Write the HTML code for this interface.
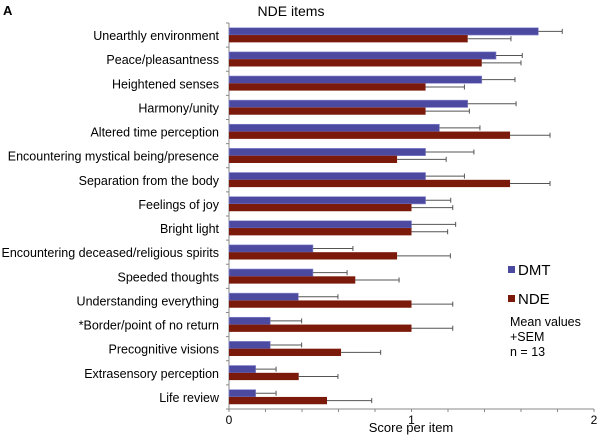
<!DOCTYPE html>
<html><head><meta charset="utf-8"><style>
body{margin:0;background:#fff;}
svg{display:block;font-family:"Liberation Sans",Arial,sans-serif;}
</style></head><body>
<svg width="600" height="436">
<text x="3" y="15" font-size="13" font-weight="bold">A</text>
<text x="291" y="16" font-size="14" text-anchor="middle">NDE items</text>
<g id="plot"></g>
<rect x="508" y="266" width="7" height="7" fill="#4b4aa0"/>
<text x="518" y="275" font-size="15">DMT</text>
<rect x="508" y="295" width="7" height="7" fill="#7b1a0a"/>
<text x="518" y="304" font-size="15">NDE</text>
<text x="510" y="326" font-size="12.5">Mean values</text>
<text x="510" y="341" font-size="12.5">+SEM</text>
<text x="510" y="356" font-size="12.5">n = 13</text>
<text x="411" y="432" font-size="13" text-anchor="middle">Score per item</text>
</svg>
<script>
const categories=["Unearthly environment","Peace/pleasantness","Heightened senses","Harmony/unity","Altered time perception","Encountering mystical being/presence","Separation from the body","Feelings of joy","Bright light","Encountering deceased/religious spirits","Speeded thoughts","Understanding everything","*Border/point of no return","Precognitive visions","Extrasensory perception","Life review"];
const dmtValues=[1.695,1.463,1.385,1.308,1.153,1.077,1.077,1.077,1.0,0.46,0.46,0.38,0.226,0.226,0.146,0.146];
const dmtErrTop=[1.826,1.607,1.567,1.573,1.375,1.342,1.29,1.215,1.242,0.679,0.647,0.597,0.398,0.398,0.258,0.258];
const ndeValues=[1.308,1.385,1.077,1.077,1.54,0.921,1.54,1.0,1.0,0.921,0.692,1.0,1.0,0.614,0.382,0.537];
const ndeErrTop=[1.545,1.6,1.29,1.317,1.759,1.19,1.759,1.226,1.198,1.213,0.932,1.226,1.226,0.831,0.597,0.782];
const xTicks=[0,0.2,0.4,0.6,0.8,1,1.2,1.4,1.6,1.8,2];
const xTickLabels=["0","1","2"];
const X0=229,X1=594,TOP=23,BOT=409;
const xs=v=>X0+(X1-X0)*v/2;
const band=(BOT-TOP)/categories.length;
const NS="http://www.w3.org/2000/svg";
const g=document.getElementById('plot');
function mk(t,a){const e=document.createElementNS(NS,t);for(const k in a)e.setAttribute(k,a[k]);g.appendChild(e);return e;}
let e;
e=mk('line',{x1:X0,y1:TOP,x2:X0,y2:BOT,stroke:'#888','stroke-width':1});


e=mk('line',{x1:X0,y1:BOT,x2:X1,y2:BOT,stroke:'#888','stroke-width':1});


xTicks.forEach(t=>{e=mk('line',{x1:xs(t),y1:BOT,x2:xs(t),y2:BOT+3,stroke:'#888'});

});
xTickLabels.forEach(l=>{e=mk('text',{x:xs(+l),y:BOT+15,'font-size':12,'text-anchor':'middle'});e.textContent=l;

});
for(let i=0;i<=categories.length;i++){e=mk('line',{x1:X0-3,y1:TOP+i*band,x2:X0,y2:TOP+i*band,stroke:'#888'});

}
categories.forEach((c,i)=>{
 const cy=TOP+i*band+band/2;
 e=mk('text',{x:219,y:cy+5,'font-size':12.5,'text-anchor':'end'});e.textContent=c;
 
 
 const bh=7.3;
 e=mk('rect',{x:X0,y:cy-bh,width:xs(dmtValues[i])-X0,height:bh,fill:'#4b4aa0',stroke:'#8a8ad0','stroke-width':0.6});
 
 
 e=mk('rect',{x:X0,y:cy,width:xs(ndeValues[i])-X0,height:bh,fill:'#7b1a0a'});
 
 
 [[dmtValues,dmtErrTop,cy-bh/2],[ndeValues,ndeErrTop,cy+bh/2]].forEach(([v,er,y])=>{
  e=mk('path',{d:`M${xs(v[i])},${y}H${xs(er[i])}M${xs(er[i])},${y-2.5}V${y+2.5}`,stroke:'#555','stroke-width':1,fill:'none'});
  
  
 });
});
</script>
</body></html>
